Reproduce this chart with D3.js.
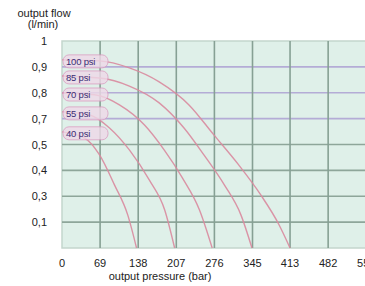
<!DOCTYPE html>
<html><head><meta charset="utf-8">
<script src="https://cdn.jsdelivr.net/npm/d3@7"></script>
<style>html,body{margin:0;padding:0;background:#fff;overflow:hidden}svg{display:block;font-family:"Liberation Sans",Arial,sans-serif}</style>
</head><body><svg id="c" width="365" height="286"></svg>
<script>
// tick labels
const xTicks = [0, 69, 138, 207, 276, 345, 413, 482, 551];
const yTicks = [1, 0.9, 0.8, 0.7, 0.5, 0.4, 0.3, 0.1];
const yLabels = ["1", "0,9", "0,8", "0,7", "0,5", "0,4", "0,3", "0,1"];
// series (pressure bar, flow l/min)
const seriesNames = ["100 psi", "85 psi", "70 psi", "55 psi", "40 psi"];
const s100 = [[0,0.927],[68,0.923],[122,0.896],[176,0.842],[230,0.753],[275,0.574],[320,0.421],[360,0.305],[393,0.09],[413,0]];
const s85  = [[0,0.865],[68,0.857],[122,0.826],[176,0.761],[221,0.628],[257,0.46],[294,0.344],[324,0.156],[344,0]];
const s70  = [[0,0.799],[59,0.792],[104,0.753],[149,0.652],[185,0.479],[218,0.371],[249,0.194],[272,0]];
const s55  = [[0,0.726],[50,0.714],[86,0.628],[122,0.479],[158,0.363],[186,0.194],[204,0]];
const s40  = [[0,0.598],[41,0.55],[68,0.46],[95,0.344],[119,0.156],[135,0]];
const seriesData = [s100, s85, s70, s55, s40];

const svg = d3.select("#c");
const L = 62, T = 41, B = 248, R = 420;
const x = d3.scaleLinear().domain([0, 551]).range([L, L + 551 * 38.1 / 69]);
// evenly spaced (non-linear) value axis as printed
const yDom = [0, 0.1, 0.3, 0.4, 0.5, 0.7, 0.8, 0.9, 1];
const y = d3.scaleLinear().domain(yDom).range(yDom.map((d, i) => B - i * (B - T) / 8));

svg.append("rect").attr("x", L).attr("y", T).attr("width", R - L).attr("height", B - T)
  .attr("fill", "#dff0e9").attr("stroke", "#c4d6cd").attr("stroke-width", 1.5);

// horizontal grid
svg.append("g").selectAll("line").data(yTicks.slice(1)).join("line")
  .attr("x1", L).attr("x2", R).attr("y1", d => y(d)).attr("y2", d => y(d))
  .attr("stroke", d => (d >= 0.7 && d <= 0.9) ? "#b4acd6" : "#8ea69a").attr("stroke-width", 1.6);
// vertical grid
svg.append("g").selectAll("line").data(xTicks.slice(1)).join("line")
  .attr("x1", d => x(d)).attr("x2", d => x(d)).attr("y1", T).attr("y2", B)
  .attr("stroke", "#86a094").attr("stroke-width", 1.6);

// curves
const line = d3.line().x(d => x(d[0])).y(d => y(d[1])).curve(d3.curveMonotoneX);
svg.append("g").selectAll("path").data(seriesData).join("path")
  .attr("d", line).attr("fill", "none").attr("stroke", "#d9899f").attr("stroke-width", 1.4).attr("opacity", 0.9);

// labels
const lg = svg.append("g").selectAll("g").data(seriesData).join("g")
  .attr("transform", d => `translate(${L + 2},${y(d[0][1]) + 4})`);
lg.append("rect").attr("x", -1).attr("y", -9).attr("width", 45).attr("height", 13).attr("rx", 6)
  .attr("fill", "#efd9e8").attr("stroke", "#dc9cc2").attr("stroke-width", 1).attr("opacity", 0.8);
lg.append("text").text((d, i) => seriesNames[i]).attr("x", 2).attr("y", 1)
  .attr("font-size", 9.5).attr("fill", "#3a2d74").attr("letter-spacing", -0.2);

// axes labels
svg.append("g").selectAll("text").data(yTicks).join("text")
  .attr("x", 47).attr("y", d => y(d) + 4).attr("text-anchor", "end")
  .attr("font-size", 11).attr("fill", "#222").text((d, i) => yLabels[i]);
svg.append("g").selectAll("text").data(xTicks).join("text")
  .attr("x", d => x(d)).attr("y", 267).attr("text-anchor", "middle")
  .attr("font-size", 11).attr("fill", "#222").text(d => d);
svg.append("text").attr("x", 160).attr("y", 280).attr("text-anchor", "middle")
  .attr("font-size", 11).attr("fill", "#222").text("output pressure (bar)");
svg.append("text").attr("x", 44).attr("y", 17).attr("text-anchor", "middle")
  .attr("font-size", 11).attr("fill", "#222").text("output flow");
svg.append("text").attr("x", 43).attr("y", 28).attr("text-anchor", "middle")
  .attr("font-size", 11).attr("fill", "#222").text("(l/min)");
</script></body></html>
